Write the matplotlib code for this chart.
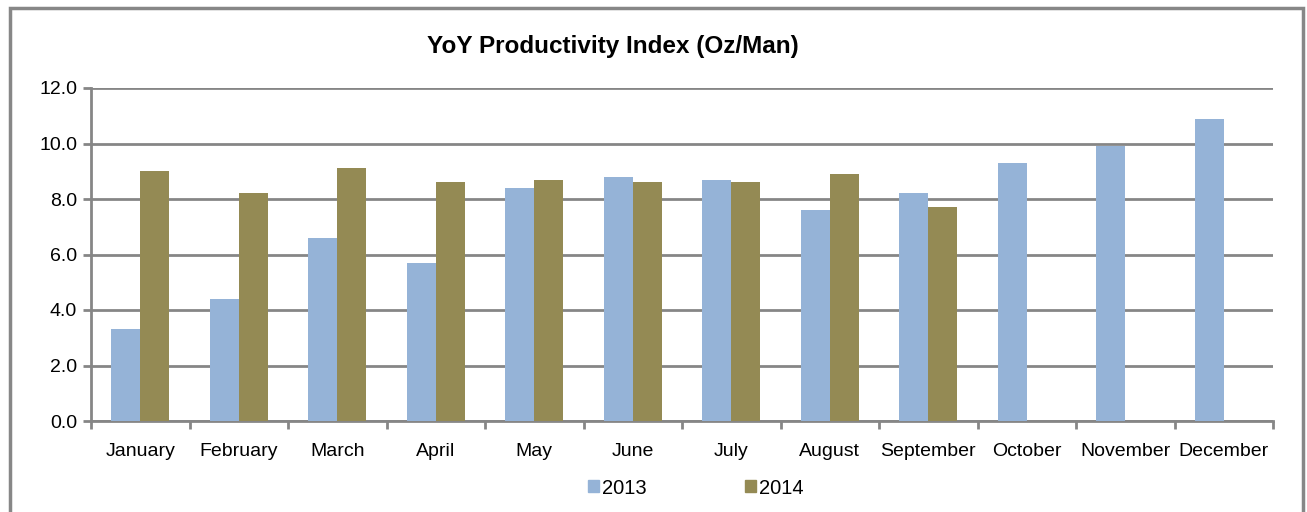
import matplotlib.pyplot as plt
import numpy as np
from matplotlib.patches import Rectangle, Patch

plt.rcParams['font.family'] = ['Liberation Sans', 'DejaVu Sans']

months = ["January", "February", "March", "April", "May", "June", "July",
          "August", "September", "October", "November", "December"]
y2013 = [3.3, 4.4, 6.6, 5.7, 8.4, 8.8, 8.7, 7.6, 8.2, 9.3, 9.9, 10.9]
y2014 = [9.0, 8.2, 9.1, 8.6, 8.7, 8.6, 8.6, 8.9, 7.7]
yticks = [0, 2, 4, 6, 8, 10, 12]

fig = plt.figure(figsize=(13.07, 5.12), dpi=100)
# outer chart frame
fig.patches.append(Rectangle((10 / 1307, -0.05), 1293 / 1307, 1.05 - 8 / 512,
                             transform=fig.transFigure, fill=False,
                             edgecolor="#878787", linewidth=2.5))

ax = fig.add_axes([91 / 1307, 1 - 421 / 512, (1273 - 91) / 1307, (421 - 88) / 512])
x = np.arange(len(months))
w = 0.295
ax.bar(x[:len(y2013)] - w / 2, y2013, w, color="#95B3D7", label="2013", zorder=3)
ax.bar(x[:len(y2014)] + w / 2, y2014, w, color="#948A54", label="2014", zorder=3)

ax.set_xlim(-0.5, len(months) - 0.5)
ax.set_ylim(0, 12)
ax.set_yticks(yticks)
ax.set_yticklabels([f"{v:.1f}" for v in yticks], fontsize=14)
ax.grid(axis="y", color="#868686", linewidth=2, zorder=0)
ax.set_xticks(x)
ax.set_xticklabels(months, fontsize=14)
ax.tick_params(axis="x", length=0, pad=16)
ax.set_xticks(np.arange(-0.5, len(months)), minor=True)
ax.tick_params(axis="x", which="minor", length=6, width=2, color="#868686")
ax.tick_params(axis="y", length=6, width=2, color="#868686", pad=4)
for s in ["top", "right"]:
    ax.spines[s].set_visible(False)
for s in ["left", "bottom"]:
    ax.spines[s].set_color("#868686")
    ax.spines[s].set_linewidth(2)

fig.text(613 / 1307, 1 - 47 / 512, "YoY Productivity Index (Oz/Man)", fontsize=17.5,
         fontweight="bold", ha="center", va="center")

handles = [Patch(color="#95B3D7"), Patch(color="#948A54")]
fig.legend(handles, ["2013", "2014"], loc="center", bbox_to_anchor=(696 / 1307, 1 - 488 / 512),
           ncol=2, frameon=False, fontsize=14.5, handlelength=0.55, handleheight=0.55,
           handletextpad=0.15, columnspacing=4.9)

fig.savefig("out.png", dpi=100)
